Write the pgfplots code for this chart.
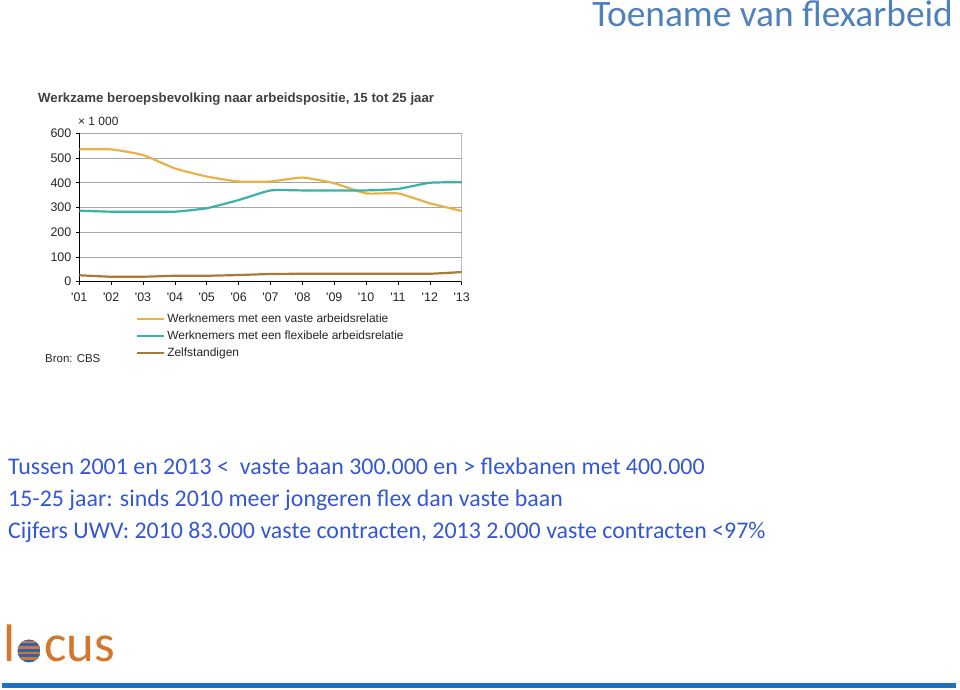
\documentclass[border=0pt]{standalone}
\usepackage{pgfplots}
\pgfplotsset{compat=1.18}
\usepackage{fontspec}
\setmainfont{Carlito}
\newfontfamily\arial{Liberation Sans}
\definecolor{vastecol}{RGB}{232,178,74}
\definecolor{flexcol}{RGB}{58,178,168}
\definecolor{zelfcol}{RGB}{168,122,58}
\definecolor{titleblue}{RGB}{79,129,189}
\definecolor{bodyblue}{RGB}{52,88,208}
\definecolor{locusorange}{RGB}{212,118,44}
\definecolor{locusblue}{RGB}{40,100,175}
\definecolor{barblue}{RGB}{30,112,192}
\definecolor{chartgray}{RGB}{64,64,64}
\pgfplotstableread{
x vaste flex zelf
1 535 287 26
2 535 283 20
3 512 283 20
4 458 283 24
5 425 297 24
6 405 330 27
7 405 369 31
8 421 369 32
9 398 369 32
10 357 369 32
11 357 375 32
12 317 400 32
13 286 402 39
}\datatable
\begin{document}
\begin{tikzpicture}[x=1bp,y=1bp]
\fill[white] (0,0) rectangle (960,690);
% slide title
\node[anchor=base east, text=titleblue, font=\fontsize{37.5}{44}\selectfont, inner sep=0] at (953,663) {Toename van flexarbeid};
% body text
\begin{scope}[every node/.style={anchor=base west, text=bodyblue, font=\fontsize{24}{28}\selectfont, inner sep=0}]
\node at (8,215) {Tussen 2001 en 2013 <\ \ vaste baan 300.000 en > flexbanen met 400.000};
\node at (8,183) {15-25 jaar: sinds 2010 meer jongeren flex dan vaste baan};
\node at (8,151) {Cijfers UWV: 2010 83.000 vaste contracten, 2013 2.000 vaste contracten <97\%};
\end{scope}
% logo
\node[anchor=base west, text=locusorange, font=\fontsize{53}{55}\selectfont, inner sep=0] at (3,28) {l};
\begin{scope}
\clip (29,39) circle (11.5);
\fill[locusblue] (17,27) rectangle (41,51);
\foreach \yy in {30,35.5,41,46.5} {\fill[locusorange] (15,\yy) rectangle (40,\yy+2.8);}
\end{scope}
\node[anchor=base west, text=locusorange, font=\fontsize{53}{55}\selectfont, inner sep=0] at (44,28) {cus};
% bottom bar
\fill[barblue] (2,1.5) rectangle (956,6.5);
% chart texts
\node[anchor=west, text=chartgray, font=\arial\bfseries\fontsize{13.3}{15}\selectfont, inner sep=0] at (38,591) {Werkzame beroepsbevolking naar arbeidspositie, 15 tot 25 jaar};
\node[anchor=west, text=black!85, font=\arial\fontsize{12}{14}\selectfont, inner sep=0] at (78,569) {× 1 000};
\node[anchor=west, text=black!85, font=\arial\fontsize{11.5}{13}\selectfont, inner sep=0] at (45,331) {Bron: CBS};
\begin{axis}[
  at={(79.3bp,408.3bp)}, anchor=south west,
  scale only axis, width=382.4bp, height=148.4bp,
  xmin=1, xmax=13, ymin=0, ymax=600,
  xtick={1,...,13},
  xticklabels={\textquotesingle01,\textquotesingle02,\textquotesingle03,\textquotesingle04,\textquotesingle05,\textquotesingle06,\textquotesingle07,\textquotesingle08,\textquotesingle09,\textquotesingle10,\textquotesingle11,\textquotesingle12,\textquotesingle13},
  ytick={0,100,...,600},
  axis x line*=bottom, axis y line*=left,
  axis line style={black, -},
  ymajorgrids, grid style={black!35, line width=0.6bp},
  tick align=outside, major tick length=3.5bp,
  tick style={black, line width=0.6bp},
  ticklabel style={font=\arial\fontsize{12.5}{14}\selectfont, text=black!85},
  /pgf/number format/assume math mode=true,
  xticklabel style={yshift=-4bp},
  yticklabel style={xshift=-1bp},
  legend style={at={(0.148,-0.205)}, anchor=north west, draw=none, fill=none,
    font=\arial\fontsize{12}{14}\selectfont, text=black!85, row sep=2.5bp, inner sep=0pt},
  legend cell align=left,
  legend image code/.code={\draw[#1] (0bp,0bp) -- (27bp,0bp);},
  every axis plot/.append style={line width=2.2bp},
]
\draw[black!40, line width=0.6bp] (rel axis cs:1,0) -- (rel axis cs:1,1);
\addplot[vastecol, smooth, tension=0.3] table[x=x, y=vaste] {\datatable};
\addlegendentry{Werknemers met een vaste arbeidsrelatie}
\addplot[flexcol, smooth, tension=0.3] table[x=x, y=flex] {\datatable};
\addlegendentry{Werknemers met een flexibele arbeidsrelatie}
\addplot[zelfcol, smooth, tension=0.3] table[x=x, y=zelf] {\datatable};
\addlegendentry{Zelfstandigen}
\end{axis}
\end{tikzpicture}
\end{document}
